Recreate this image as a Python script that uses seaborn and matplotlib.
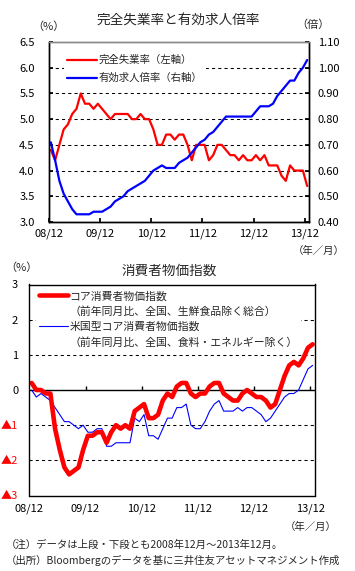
import numpy as np
import matplotlib
matplotlib.use("Agg")
import matplotlib.pyplot as plt
import seaborn as sns
from matplotlib.lines import Line2D

# monthly data, 2008/12 - 2013/12 (61 months)
months = np.arange(61)
tick_labels = ['08/12', '09/12', '10/12', '11/12', '12/12', '13/12']

# upper panel
unemployment = [4.4, 4.2, 4.5, 4.8, 4.9, 5.1, 5.2, 5.5, 5.3, 5.3,
                5.2, 5.3, 5.2, 5.1, 5.0, 5.1, 5.1, 5.1, 5.1, 5.0,
                5.0, 5.1, 5.0, 5.0, 4.8, 4.5, 4.5, 4.7, 4.7, 4.6,
                4.7, 4.7, 4.5, 4.2, 4.5, 4.5, 4.5, 4.2, 4.3, 4.5,
                4.5, 4.4, 4.3, 4.3, 4.2, 4.3, 4.2, 4.2, 4.3, 4.2,
                4.3, 4.1, 4.1, 4.1, 3.9, 3.8, 4.1, 4.0, 4.0, 4.0,
                3.7]
job_ratio = [0.71, 0.64, 0.56, 0.51, 0.48, 0.45, 0.43, 0.43, 0.43, 0.43,
             0.44, 0.44, 0.44, 0.45, 0.46, 0.48, 0.49, 0.50, 0.52, 0.53,
             0.54, 0.55, 0.56, 0.58, 0.60, 0.61, 0.62, 0.61, 0.61, 0.61,
             0.63, 0.64, 0.65, 0.67, 0.69, 0.71, 0.72, 0.74, 0.75, 0.77,
             0.79, 0.81, 0.81, 0.81, 0.81, 0.81, 0.81, 0.81, 0.83, 0.85,
             0.85, 0.85, 0.86, 0.89, 0.91, 0.93, 0.95, 0.95, 0.98, 1.00,
             1.03]
left_ticks = [3.0, 3.5, 4.0, 4.5, 5.0, 5.5, 6.0, 6.5]
right_ticks = [0.40, 0.50, 0.60, 0.70, 0.80, 0.90, 1.00, 1.10]

# lower panel
core_cpi = [0.2, 0.0, 0.0, -0.1, -0.1, -1.1, -1.7, -2.2, -2.4, -2.3,
            -2.2, -1.7, -1.3, -1.3, -1.2, -1.2, -1.5, -1.2, -1.0, -1.1,
            -1.0, -1.1, -0.6, -0.5, -0.4, -0.8, -0.8, -0.7, -0.3, -0.1,
            -0.2, 0.1, 0.2, 0.2, -0.1, -0.2, -0.1, -0.1, 0.1, 0.2,
            0.2, -0.1, -0.2, -0.3, -0.3, -0.1, 0.0, -0.1, -0.2, -0.2,
            -0.3, -0.5, -0.4, 0.0, 0.4, 0.7, 0.8, 0.7, 0.9, 1.2,
            1.3]
us_core_cpi = [0.0, -0.2, -0.1, -0.2, -0.3, -0.5, -0.7, -0.9, -0.9, -1.0,
               -1.1, -1.0, -1.2, -1.2, -1.1, -1.1, -1.6, -1.6, -1.5, -1.5,
               -1.5, -1.5, -0.8, -0.9, -0.7, -1.3, -1.3, -1.4, -1.1, -0.8,
               -0.8, -0.5, -0.5, -0.4, -1.0, -1.1, -1.1, -0.9, -0.6, -0.4,
               -0.3, -0.6, -0.6, -0.6, -0.5, -0.6, -0.5, -0.5, -0.6, -0.7,
               -0.9, -0.8, -0.6, -0.4, -0.2, -0.1, -0.1, 0.0, 0.3, 0.6,
               0.7]
cpi_ticks = [-3, -2, -1, 0, 1, 2, 3]

RED = '#ff0000'
BLUE = '#0000ff'

sns.set_theme(style="white")
plt.rcParams['font.family'] = ['Noto Sans CJK JP', 'DejaVu Sans']

fig = plt.figure(figsize=(3.55, 5.71), dpi=100)
tick_pos = np.arange(0, 61, 12) - 0.5
dash = (0, (3, 3))


def style_spines(ax):
    for s in ax.spines.values():
        s.set_color('black')
        s.set_linewidth(1.0)


# ---------- upper: unemployment rate and jobs-to-applicants ratio ----------
ax1 = fig.add_axes([48.7 / 355, 1 - 222 / 571, 260.6 / 355, 180 / 571])
ax2 = ax1.twinx()

sns.lineplot(x=months, y=unemployment, ax=ax1, color=RED, lw=1.6, legend=False)
sns.lineplot(x=months, y=job_ratio, ax=ax2, color=BLUE, lw=1.6, legend=False)

ax1.set_xlim(-0.5, 60.5)
ax1.set_ylim(3.0, 6.5)
ax2.set_ylim(0.40, 1.10)
for v in left_ticks[1:-1]:
    ax1.axhline(v, color='black', lw=0.75, ls=dash, zorder=0)

ax1.set_yticks(left_ticks)
ax1.set_yticklabels([f'{v:.1f}' for v in left_ticks])
ax2.set_yticks(right_ticks)
ax2.set_yticklabels([f'{v:.2f}' for v in right_ticks])
ax1.set_xticks(tick_pos)
ax1.set_xticklabels(tick_labels)
ax1.set_xlabel('')
ax1.set_ylabel('')
ax2.set_ylabel('')

ax1.tick_params(axis='y', direction='in', length=3, labelsize=8, pad=10, left=True, colors='black')
ax2.tick_params(axis='y', direction='in', length=3, labelsize=8, pad=6, right=True, colors='black')
ax1.tick_params(axis='x', direction='in', length=3, labelsize=8, pad=5, bottom=True, colors='black')

for ax in (ax1, ax2):
    style_spines(ax)
    ax.spines['top'].set_color('#888888')
    ax.spines['top'].set_linestyle((0, (1, 1)))

leg1 = ax2.legend([ax1.lines[0], ax2.lines[0]],
                  ['完全失業率（左軸）', '有効求人倍率（右軸）'],
                  loc='upper left', bbox_to_anchor=(0.06, 0.945),
                  fontsize=7.5, handlelength=2.8, handletextpad=0.2,
                  labelspacing=0.75, borderpad=0.3, borderaxespad=0,
                  frameon=True, fancybox=False, framealpha=1,
                  facecolor='white', edgecolor='none')

fig.text(178 / 355, 1 - 21 / 571, '完全失業率と有効求人倍率', ha='center', va='center', fontsize=9.8)
fig.text(48 / 355, 1 - 27 / 571, '（%）', ha='center', va='center', fontsize=8)
fig.text(313 / 355, 1 - 25 / 571, '（倍）', ha='center', va='center', fontsize=8)
fig.text(319 / 355, 1 - 251 / 571, '（年／月）', ha='center', va='center', fontsize=7.5)

# ---------- lower: consumer price index ----------
ax3 = fig.add_axes([29.3 / 355, 1 - 495.5 / 571, 285.7 / 355, 211 / 571])

sns.lineplot(x=months, y=us_core_cpi, ax=ax3, color=BLUE, lw=0.8, legend=False)
sns.lineplot(x=months, y=core_cpi, ax=ax3, color=RED, lw=3.3, legend=False)

ax3.set_xlim(-0.5, 60.5)
ax3.set_ylim(-3, 3)
for v in cpi_ticks[1:-1]:
    if v == 0:
        ax3.axhline(0, color='black', lw=1.0, zorder=1)
    else:
        ax3.axhline(v, color='black', lw=0.75, ls=dash, zorder=0)
ax3.vlines(tick_pos[1:], 0, 0.1, color='black', lw=1.0)

ax3.set_yticks(cpi_ticks)
ax3.set_yticklabels([f'▲{-v}' if v < 0 else f'{v}' for v in cpi_ticks])
for lab, v in zip(ax3.get_yticklabels(), cpi_ticks):
    lab.set_color(RED if v < 0 else 'black')
ax3.set_xticks(tick_pos)
ax3.set_xticklabels(tick_labels)
ax3.set_xlabel('')
ax3.set_ylabel('')
ax3.tick_params(axis='y', length=0, labelsize=8, pad=8)
ax3.tick_params(axis='x', length=0, labelsize=8, pad=6, colors='black')
style_spines(ax3)

blank = Line2D([], [], color='none')
leg3 = ax3.legend([ax3.lines[1], blank, ax3.lines[0], blank],
                  ['コア消費者物価指数', '（前年同月比、全国、生鮮食品除く総合）',
                   '米国型コア消費者物価指数', '（前年同月比、全国、食料・エネルギー除く）'],
                  loc='upper left', bbox_to_anchor=(0.022, 0.985),
                  fontsize=7.8, handlelength=2.7, handletextpad=0.15,
                  labelspacing=0.45, borderpad=0.3, borderaxespad=0,
                  frameon=True, fancybox=False, framealpha=1,
                  facecolor='white', edgecolor='none')

fig.text(169 / 355, 1 - 271 / 571, '消費者物価指数', ha='center', va='center', fontsize=9.8)
fig.text(21 / 355, 1 - 268 / 571, '（%）', ha='center', va='center', fontsize=8)
fig.text(311 / 355, 1 - 527 / 571, '（年／月）', ha='center', va='center', fontsize=7.5)

fig.text(6 / 355, 1 - 545 / 571, '（注）データは上段・下段とも2008年12月～2013年12月。',
         ha='left', va='center', fontsize=7.5)
fig.text(6 / 355, 1 - 560 / 571, '（出所）Bloombergのデータを基に三井住友アセットマネジメント作成',
         ha='left', va='center', fontsize=7.5)

fig.savefig('out.png', dpi=100)
